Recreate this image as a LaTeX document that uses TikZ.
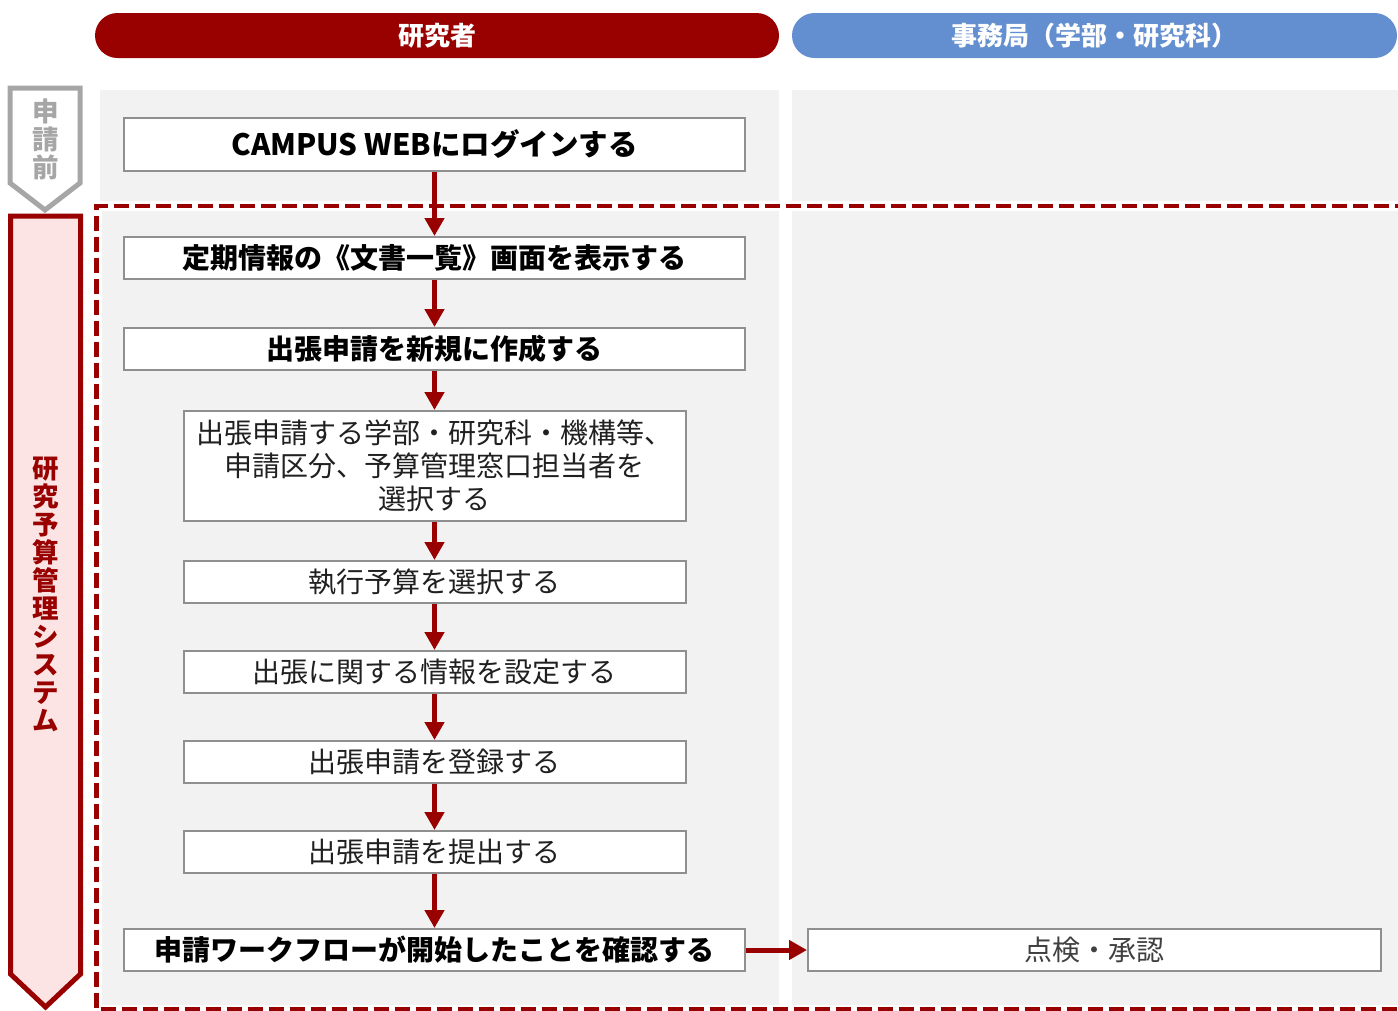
\documentclass[tikz,border=0pt]{standalone}
\usepackage{fontspec}
\newfontfamily\jp{Noto Sans CJK JP}
\usetikzlibrary{arrows.meta}
\definecolor{dred}{RGB}{153,0,0}
\definecolor{hblue}{RGB}{99,142,207}
\definecolor{lanegray}{RGB}{242,242,242}
\definecolor{pinkfill}{RGB}{252,228,228}
\definecolor{chevgray}{RGB}{166,166,166}
\definecolor{boxgray}{RGB}{143,143,143}
\definecolor{txtdark}{RGB}{32,32,32}
\definecolor{txtgray}{RGB}{64,64,64}
\tikzset{
  pill/.style={rounded corners=22.5pt, inner sep=0pt, text=white,
    font=\jp\bfseries\fontsize{26}{30}\selectfont, minimum height=45pt},
  stepbox/.style={draw=boxgray, line width=2pt, fill=white, inner sep=0pt,
    minimum height=42pt},
  wide/.style={minimum width=621pt},
  narrow/.style={minimum width=502pt},
  boldtxt/.style={font=\jp\bfseries\fontsize{28}{33}\selectfont, text=black},
  normtxt/.style={font=\jp\fontsize{28}{33}\selectfont, text=txtdark},
  vtext/.style={font=\jp\bfseries\fontsize{26.5}{28}\selectfont, align=center, inner sep=0pt},
  flow/.style={draw=dred, line width=5pt, -{Triangle[width=19pt,length=18pt]}},
}
\begin{document}
\begin{tikzpicture}[x=1pt,y=-1pt]
\useasboundingbox (0,0) rectangle (1398,1010);
\begin{scope}
\clip (0,0) rectangle (1398,1010);
% lanes
\fill[lanegray] (100,90) rectangle (779,1015);
\fill[lanegray] (792,90) rectangle (1405,1015);
% headers
\node[pill, fill=dred, minimum width=684pt] (hres) at (437,35.5) {研究者};
\node[pill, fill=hblue, minimum width=605pt] (hoff) at (1094.5,35.5) {事務局（学部・研究科）};
% dashed system region
\draw[white, line width=10pt] (1410,206) -- (96.5,206) -- (96.5,1009.5) -- (1410,1009.5);
\draw[dred, line width=4.5pt, dash pattern=on 15pt off 6pt] (1410,206) -- (96.5,206) -- (96.5,1009.5) -- (1410,1009.5);
% left chevrons
\draw[chevgray, line width=5pt, fill=white, line join=miter]
  (10,88) -- (80,88) -- (80,183) -- (45,210) -- (10,183) -- cycle;
\node[vtext, text=chevgray] (pre) at (45.5,139) {申\\請\\前};
\draw[dred, line width=5pt, fill=pinkfill, line join=miter]
  (10.5,216) -- (80.5,216) -- (80.5,974) -- (45.5,1007) -- (10.5,974) -- cycle;
\node[vtext, text=dred] (sys) at (46,594) {研\\究\\予\\算\\管\\理\\シ\\ス\\テ\\ム};
% steps
\node[stepbox, wide, boldtxt, font=\jp\bfseries\fontsize{29.5}{33}\selectfont, minimum height=53pt] (b1) at (434.5,144.5) {CAMPUS WEBにログインする};
\node[stepbox, wide, boldtxt] (b2) at (434.5,258) {定期情報の《文書一覧》画面を表示する};
\node[stepbox, wide, boldtxt] (b3) at (434.5,349) {出張申請を新規に作成する};
\node[stepbox, narrow, normtxt, minimum height=110pt, align=center] (b4) at (434.5,466)
  {出張申請する学部・研究科・機構等、\\申請区分、予算管理窓口担当者を\\選択する};
\node[stepbox, narrow, normtxt] (b5) at (434.5,582) {執行予算を選択する};
\node[stepbox, narrow, normtxt] (b6) at (434.5,672) {出張に関する情報を設定する};
\node[stepbox, narrow, normtxt] (b7) at (434.5,762) {出張申請を登録する};
\node[stepbox, narrow, normtxt] (b8) at (434.5,852) {出張申請を提出する};
\node[stepbox, wide, boldtxt] (b9) at (434.5,950) {申請ワークフローが開始したことを確認する};
\node[stepbox, normtxt, text=txtgray, minimum width=573pt] (r1) at (1094.5,950) {点検・承認};
% connectors
\draw[flow] (b1.south) -- (b2.north);
\draw[flow] (b2.south) -- (b3.north);
\draw[flow] (b3.south) -- (b4.north);
\draw[flow] (b4.south) -- (b5.north);
\draw[flow] (b5.south) -- (b6.north);
\draw[flow] (b6.south) -- (b7.north);
\draw[flow] (b7.south) -- (b8.north);
\draw[flow] (b8.south) -- (b9.north);
\draw[flow] (b9.east) -- (r1.west);
\end{scope}
\end{tikzpicture}
\end{document}
